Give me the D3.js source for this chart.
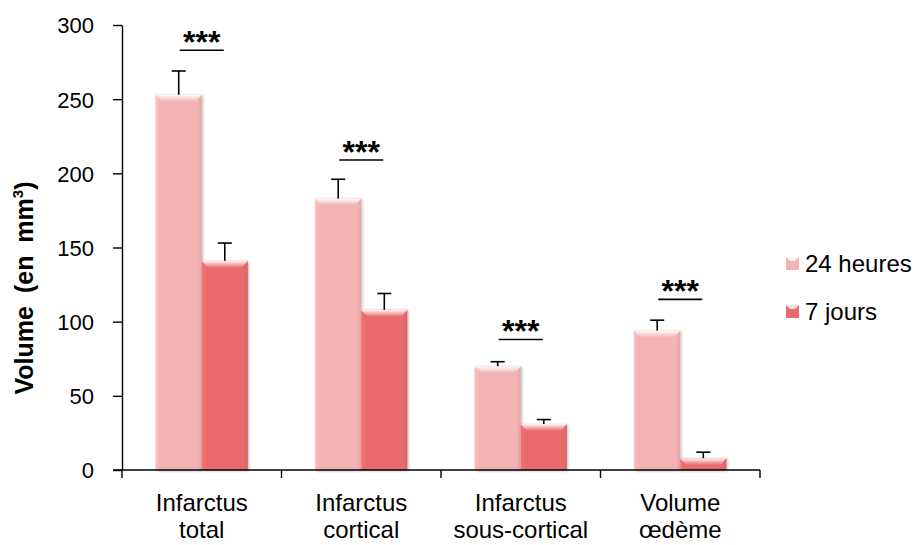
<!DOCTYPE html>
<html><head><meta charset="utf-8">
<script src="https://cdn.jsdelivr.net/npm/d3@7"></script>
<style>body{margin:0;background:#fff}svg{display:block;font-family:Arial,"Liberation Sans",sans-serif}</style>
</head><body><svg id="c" width="923" height="545"></svg>
<script>
const categories = [["Infarctus","total"],["Infarctus","cortical"],["Infarctus","sous-cortical"],["Volume","œdème"]];
const seriesNames = ["24 heures","7 jours"];
const values24h = [253, 183, 70, 94];
const errors24h = [16, 13, 3, 7];
const values7j = [141, 108, 31, 8];
const errors7j = [12, 11, 3, 4];
const sigLevel = [283, 209, 88, 115];
const sigLabels = ["***","***","***","***"];
const yTicks = [0,50,100,150,200,250,300];
const colors = ["#F3B3B4","#E86B6D"];

const svg = d3.select("#c");
const m = {l:122, r:760, t:25, b:470};
const x = d3.scaleBand().domain(d3.range(categories.length)).range([m.l, m.r]).paddingInner(0).paddingOuter(0);
const y = d3.scaleLinear().domain([0,300]).range([m.b, m.t]);
const inner = d3.scaleBand().domain([0,1]).range([0, x.bandwidth()]).paddingInner(0).paddingOuter(0.73);

const defs = svg.append("defs");
colors.forEach((c,i)=>{
  const g = defs.append("linearGradient").attr("id","g"+i).attr("x1",0).attr("x2",1).attr("y1",0).attr("y2",0);
  const cc = d3.color(c);
  g.append("stop").attr("offset","0%").attr("stop-color", cc.brighter(0.15));
  g.append("stop").attr("offset","10%").attr("stop-color", c);
  g.append("stop").attr("offset","90%").attr("stop-color", c);
  g.append("stop").attr("offset","100%").attr("stop-color", cc.darker(0.2));
  const h = defs.append("linearGradient").attr("id","h"+i).attr("x1",0).attr("x2",0).attr("y1",0).attr("y2",1);
  h.append("stop").attr("offset","0%").attr("stop-color","#fff").attr("stop-opacity",0.95);
  h.append("stop").attr("offset","100%").attr("stop-color","#fff").attr("stop-opacity",0);
});
const f = defs.append("filter").attr("id","sh").attr("x","-20%").attr("y","-20%").attr("width","140%").attr("height","140%");
f.append("feGaussianBlur").attr("in","SourceAlpha").attr("stdDeviation",1.5);
f.append("feOffset").attr("dx",1).attr("dy",1).attr("result","b");
f.append("feComponentTransfer").append("feFuncA").attr("type","linear").attr("slope",0.3);
const mg = f.append("feMerge"); mg.append("feMergeNode"); mg.append("feMergeNode").attr("in","SourceGraphic");

const series = [values24h, values7j];
const errs = [errors24h, errors7j];
series.forEach((vals,si)=>{
  vals.forEach((v,ci)=>{
    const bx = x(ci)+inner(si), bw = inner.bandwidth(), by = y(v), bh = y(0)-y(v);
    const gEl = svg.append("g");
    gEl.append("rect").attr("x",bx).attr("y",by).attr("width",bw).attr("height",bh).attr("fill","url(#g"+si+")").attr("filter","url(#sh)");
    gEl.append("path").attr("d",`M${bx},${by}L${bx+bw},${by}L${bx+bw-6},${by+7}L${bx+6},${by+7}Z`).attr("fill","url(#h"+si+")");
    const cx = bx + bw/2;
    svg.append("line").attr("x1",cx).attr("x2",cx).attr("y1",by).attr("y2",y(v+errs[si][ci])).attr("stroke","#000").attr("stroke-width",1.6);
    svg.append("line").attr("x1",cx-7).attr("x2",cx+7).attr("y1",y(v+errs[si][ci])).attr("y2",y(v+errs[si][ci])).attr("stroke","#000").attr("stroke-width",1.6);
  });
});

// significance
sigLevel.forEach((s,ci)=>{
  const cx = x(ci)+x.bandwidth()/2;
  svg.append("line").attr("x1",cx-22).attr("x2",cx+22).attr("y1",y(s)).attr("y2",y(s)).attr("stroke","#000").attr("stroke-width",1.6);
  svg.append("text").attr("x",cx).attr("y",y(s)+3).attr("text-anchor","middle").attr("font-size",32).attr("font-weight","bold").attr("fill","#000").text(sigLabels[ci]);
});

// y axis
const ya = svg.append("g").attr("transform",`translate(${m.l},0)`).call(d3.axisLeft(y).tickValues(yTicks).tickSize(9).tickSizeOuter(0));
ya.select(".domain").attr("stroke","#000").attr("stroke-width",1.4);
ya.selectAll(".tick line").attr("stroke","#000").attr("stroke-width",1.4);
ya.selectAll(".tick text").attr("font-size",22).attr("fill","#000").attr("x",-28).attr("dy","0.36em").attr("font-family","Arial, Liberation Sans, sans-serif");

// x axis
const xa = svg.append("g").attr("transform",`translate(0,${m.b})`);
xa.append("line").attr("x1",m.l-9).attr("x2",m.r).attr("stroke","#000").attr("stroke-width",1.4);
d3.range(categories.length+1).forEach(i=>{
  const tx = i<categories.length ? x(i) : m.r;
  xa.append("line").attr("x1",tx).attr("x2",tx).attr("y1",0).attr("y2",8).attr("stroke","#000").attr("stroke-width",1.4);
});
categories.forEach((c,i)=>{
  const t = xa.append("text").attr("text-anchor","middle").attr("font-size",24).attr("fill","#000");
  c.forEach((ln,k)=> t.append("tspan").attr("x",x(i)+x.bandwidth()/2).attr("y",41+k*27).text(ln));
});

// y title
const yt = svg.append("text").attr("transform","translate(33,288) rotate(-90)").attr("text-anchor","middle").attr("font-size",25).attr("font-weight","bold").attr("fill","#000").attr("word-spacing",6);
yt.append("tspan").text("Volume (en mm");
yt.append("tspan").attr("font-size",15).attr("dy",-10).text("3");
yt.append("tspan").attr("dy",10).text(")");

// legend
seriesNames.forEach((n,i)=>{
  const ly = 263 + i*48;
  svg.append("rect").attr("x",786).attr("y",ly-6).attr("width",13).attr("height",13).attr("fill",colors[i]);
  svg.append("path").attr("d",`M786,${ly-6}L799,${ly-6}L795,${ly-2}L790,${ly-2}Z`).attr("fill","#fff").attr("opacity",0.8);
  svg.append("text").attr("x",805).attr("y",ly+9).attr("font-size",24).attr("fill","#000").text(n);
});
</script></body></html>
